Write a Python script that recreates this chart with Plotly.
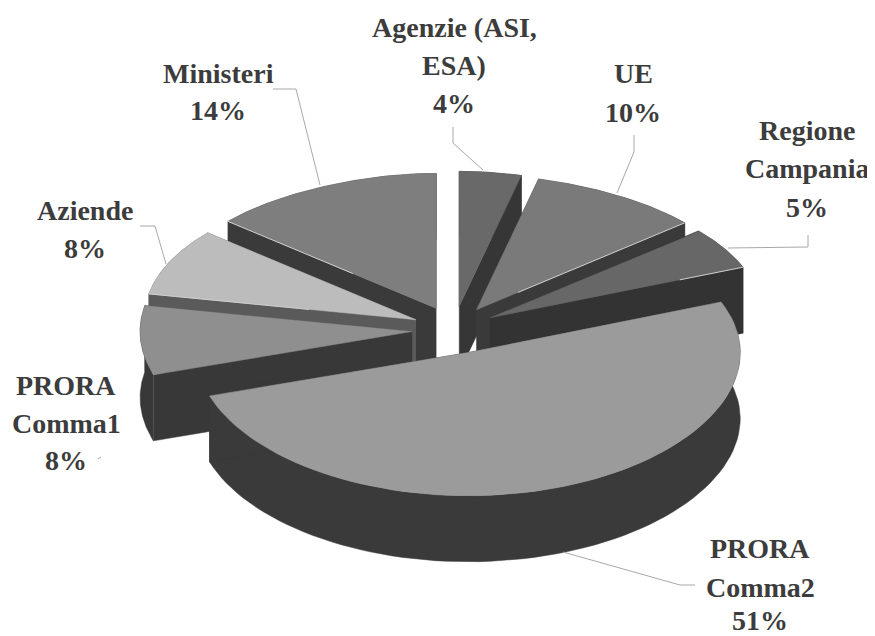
import numpy as np
import plotly.graph_objects as go

# --- data ---
categories = ["Agenzie (ASI,|ESA)", "UE", "Regione|Campania", "PRORA|Comma2", "PRORA|Comma1", "Aziende", "Ministeri"]
values = [4, 10, 5, 51, 8, 8, 14]
top_colors = ["#696969", "#7a7a7a", "#676767", "#9b9b9b", "#8f8f8f", "#bcbcbc", "#7e7e7e"]
wall_colors = ["#363636", "#3a3a3a", "#333333", "#3a3a3a", "#383838", "#5a5a5a", "#3a3a3a"]
draw_order = [6, 0, 1, 2, 5, 4, 3]

# light rim on the lit radial edge: (edge index 0/-1, share of the edge from the rim); None = no rim
highlights = [None, (-1, 0.8), (-1, 0.25), None, None, (0, 0.6), (0, 0.6)]

# label block centres (x, y of each line) in page pixels
label_x = [454, 633, 807, 760, 66, 85, 218]
label_y = [[27, 65, 103], [73, 112], [130, 168, 207], [548, 587, 620], [385, 423, 460], [210, 248], [73, 110]]

leader_x = [[453, 453, 483], [634, 634, 617], [808, 808, 728], [695, 680, 563], [98, 101], [140, 155, 166], [273, 296, 320]]
leader_y = [[127, 143, 170], [135, 152, 193], [235, 247, 248], [585, 585, 552], [459, 457], [226, 226, 264], [89, 89, 185]]

# --- projection of the exploded cylinder ---
CX, CY, RX, RY, DEPTH, EX, EY = 454, 330, 272, 139, 66, 42, 24
FAR_X, FAR_Y = 0.10, 0.03  # foreshortening of the far rim
OFFSET = 8  # the page body margin

fig = go.Figure()


def poly(xs, ys, color, name):
    fig.add_trace(go.Scatter(x=list(xs), y=list(ys), mode="lines", fill="toself",
                             fillcolor=color, line=dict(color=color, width=0.5),
                             hoverinfo="skip", name=name, showlegend=False))


total = sum(values)
cum = np.cumsum([0] + values) / total * 2 * np.pi
for i in draw_order:
    a0, a1 = cum[i], cum[i + 1]
    mid = (a0 + a1) / 2
    ax = CX + EX * np.sin(mid)
    ay = CY - EY * np.cos(mid)
    t = np.linspace(a0, a1, 80)
    rimx = ax + RX * (1 - FAR_X * np.clip(np.cos(t), 0, 1) ** 6) * np.sin(t)
    rimy = ay - RY * np.cos(t) * (1 - FAR_Y * np.cos(t))
    name = categories[i].replace("|", " ")
    # outer wall
    poly(np.r_[rimx, rimx[::-1]], np.r_[rimy, rimy[::-1] + DEPTH], wall_colors[i], name + " wall")
    # radial walls
    for k in (0, -1):
        poly([ax, rimx[k], rimx[k], ax], [ay, rimy[k], rimy[k] + DEPTH, ay + DEPTH], wall_colors[i], name + " wall")
    poly(np.r_[ax, rimx, ax], np.r_[ay, rimy, ay], top_colors[i], name)
    if highlights[i]:
        k, share = highlights[i]
        fig.add_trace(go.Scatter(x=[rimx[k], rimx[k] + (ax - rimx[k]) * share],
                                 y=[rimy[k], rimy[k] + (ay - rimy[k]) * share],
                                 mode="lines", line=dict(color="#cfcfcf", width=1),
                                 hoverinfo="skip", showlegend=False))

# leader lines
for lx, ly in zip(leader_x, leader_y):
    fig.add_trace(go.Scatter(x=lx, y=ly, mode="lines", line=dict(color="#a8a8a8", width=1),
                             hoverinfo="skip", showlegend=False))

# labels
for cat, val, x, ys in zip(categories, values, label_x, label_y):
    lines = cat.split("|") + [f"{val}%"]
    for line, y in zip(lines, ys):
        fig.add_annotation(x=x, y=y, text=f"<b>{line}</b>", showarrow=False,
                           xanchor="center", yanchor="middle",
                           font=dict(family="Liberation Serif", size=28, color="#3c3c3c"))

fig.update_layout(width=875 - OFFSET, height=636 - OFFSET, margin=dict(l=0, r=0, t=0, b=0),
                  paper_bgcolor="white", plot_bgcolor="white", showlegend=False,
                  xaxis=dict(range=[OFFSET, 875], visible=False, fixedrange=True),
                  yaxis=dict(range=[636, OFFSET], visible=False, fixedrange=True))
fig.write_html("out.html", config={"displayModeBar": False})
